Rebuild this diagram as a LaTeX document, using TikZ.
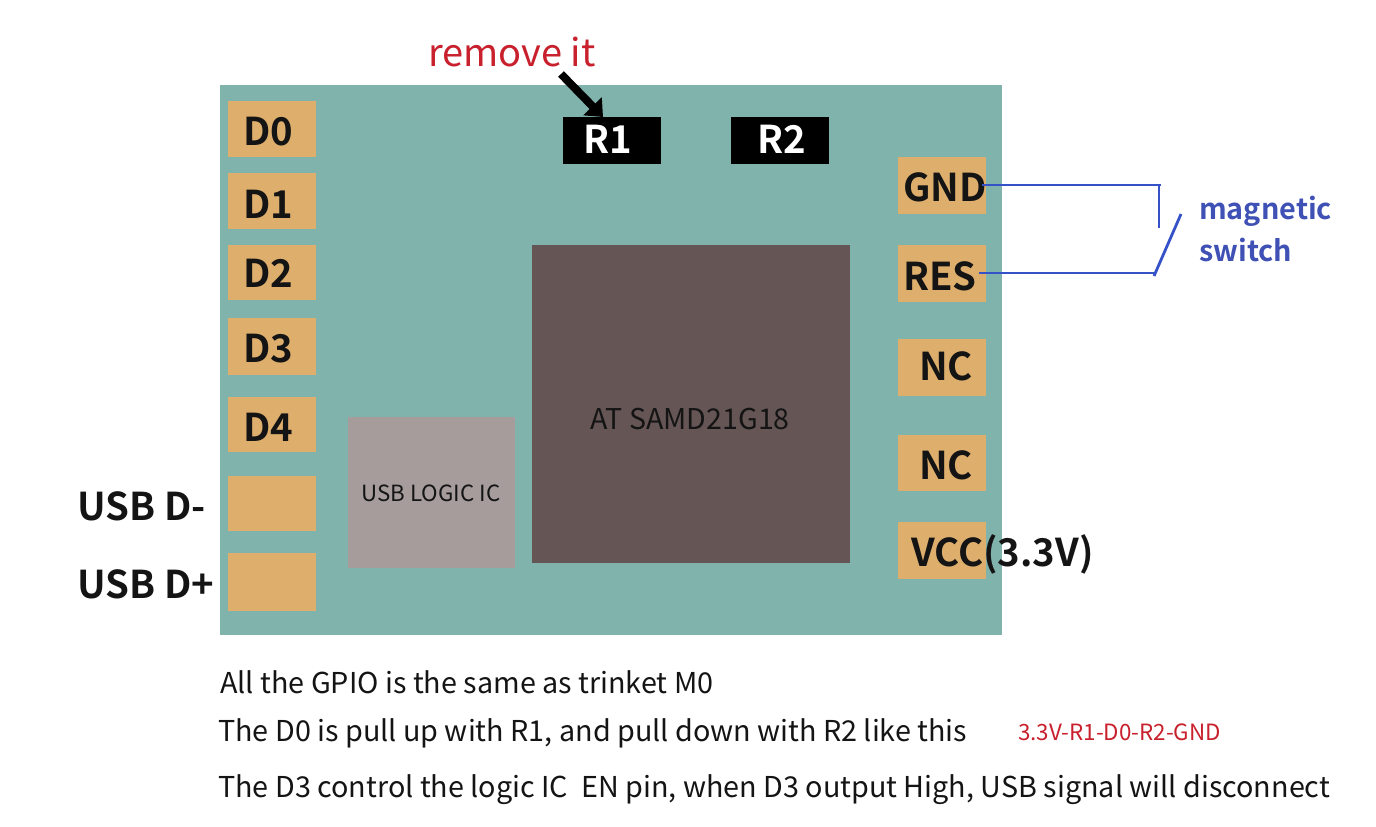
\documentclass[tikz,border=0pt]{standalone}
\usepackage{fontspec}
\setmainfont{Noto Sans CJK SC}[BoldFont={Noto Sans CJK SC Bold},Scale=1]
\usetikzlibrary{arrows.meta}
\definecolor{boardc}{HTML}{81B3AD}
\definecolor{padc}{HTML}{DEAE6D}
\definecolor{chipc}{HTML}{655555}
\definecolor{usbc}{HTML}{A69C9C}
\definecolor{inkc}{HTML}{141414}
\definecolor{redc}{HTML}{C8202C}
\definecolor{bluec}{HTML}{3F51B5}
\definecolor{linec}{HTML}{3552C8}
\tikzset{
  x=1pt,y=-1pt,
  box/.style={inner sep=0pt,outer sep=0pt,anchor=north west},
  pad/.style={box,fill=padc,minimum width=88pt},
  padtext/.style={inner sep=0pt,text=inkc,font=\fontsize{38.3}{38}\selectfont\bfseries},
  bodytext/.style={inner sep=0pt,anchor=base west,text=inkc,font=\fontsize{28.75}{29}\selectfont},
  wire/.style={draw=linec,line width=2.8pt},
  swtext/.style={inner sep=0pt,anchor=base west,text=bluec,font=\fontsize{28.8}{29}\selectfont\bfseries},
  rbox/.style={box,fill=black,minimum width=98pt,minimum height=47pt}
}
\begin{document}
\begin{tikzpicture}
\useasboundingbox (0,0) rectangle (1376,827);
\node[box,fill=boardc,minimum width=782pt,minimum height=550pt] (board) at (220,85) {};
\node[box,fill=chipc,minimum width=318pt,minimum height=318pt] (chip) at (532,245) {};
\node[box,fill=usbc,minimum width=167pt,minimum height=151pt] (usb) at (348,417) {};
\node[inner sep=0pt,text=inkc,font=\fontsize{28.6}{29}\selectfont] (chiplabel) at (690,419) {AT SAMD21G18};
\node[inner sep=0pt,text=inkc,font=\fontsize{22.3}{22}\selectfont] (usblabel) at (431,493) {USB LOGIC IC};
% left pads
\node[pad,minimum height=56pt] (d0) at (228,101) {};
\node[pad,minimum height=56pt] (d1) at (228,173) {};
\node[pad,minimum height=55pt] (d2) at (228,245) {};
\node[pad,minimum height=57pt] (d3) at (228,318) {};
\node[pad,minimum height=55pt] (d4) at (228,397) {};
\node[pad,minimum height=55pt] (um) at (228,476) {};
\node[pad,minimum height=58pt] (up) at (228,553) {};
\node[padtext] (d0t) at (268,132) {D0};
\node[padtext] (d1t) at (268,204) {D1};
\node[padtext] (d2t) at (268,273) {D2};
\node[padtext] (d3t) at (268,349) {D3};
\node[padtext] (d4t) at (268,427) {D4};
% right pads
\node[pad,minimum height=57pt] (gnd) at (898,157) {};
\node[pad,minimum height=57pt] (res) at (898,245) {};
\node[pad,minimum height=57pt] (nca) at (898,339) {};
\node[pad,minimum height=56pt] (ncb) at (898,435) {};
\node[pad,minimum height=57pt] (vcc) at (898,522) {};
\node[padtext] (gndt) at (945,187) {GND};
\node[padtext] (rest) at (940,276) {RES};
\node[padtext] (ncat) at (946,366) {NC};
\node[padtext] (ncbt) at (946,465) {NC};
\node[padtext,anchor=west] (vcct) at (911,554) {VCC(3.3V)};
\node[padtext,anchor=west] (usbm) at (77,506) {USB D-};
\node[padtext,anchor=west] (usbp) at (77,584) {USB D+};
% resistors
\node[rbox] (r1) at (563,117) {};
\node[rbox] (r2) at (731,117) {};
\node[inner sep=0pt,text=white,font=\fontsize{38.3}{38}\selectfont\bfseries] (r1t) at (608,139) {R1};
\node[inner sep=0pt,text=white,font=\fontsize{38.3}{38}\selectfont\bfseries] (r2t) at (782,139) {R2};
% remove
\node[inner sep=0pt,text=redc,font=\fontsize{38}{38}\selectfont] (rm) at (512,52) {remove it};
\coordinate (arrowstart) at (561,74);
\draw[line width=8pt,-{Triangle[length=15pt,width=25pt]}] (arrowstart) -- (603,117);
% switch
\coordinate (gndend) at (1161,185);
\coordinate (resend) at (1155,273);
\coordinate (swtop) at (1159,228);
\coordinate (swa) at (1154,276);
\coordinate (swb) at (1181,214);
\draw[wire] (gnd.east|-gndend) ++(-4,0) -- (gndend);
\draw[wire] (1159,185) -- (swtop);
\draw[wire] (res.east|-resend) ++(-7,0) -- (resend);
\draw[wire] (swa) -- (swb);
\node[swtext] (m1) at (1199,219) {magnetic};
\node[swtext] (m2) at (1199,261) {switch};
% notes
\node[bodytext] (n1) at (220,693) {All the GPIO is the same as trinket M0};
\node[bodytext] (n2) at (218,741) {The D0 is pull up with R1, and pull down with R2 like this};
\node[inner sep=0pt,anchor=base west,text=redc,font=\fontsize{22.4}{22}\selectfont] (n2b) at (1018,740) {3.3V-R1-D0-R2-GND};
\node[bodytext] (n3) at (218,797) {The D3 control the logic IC\ \ EN pin, when D3 output High, USB signal will disconnect};
\end{tikzpicture}
\end{document}
